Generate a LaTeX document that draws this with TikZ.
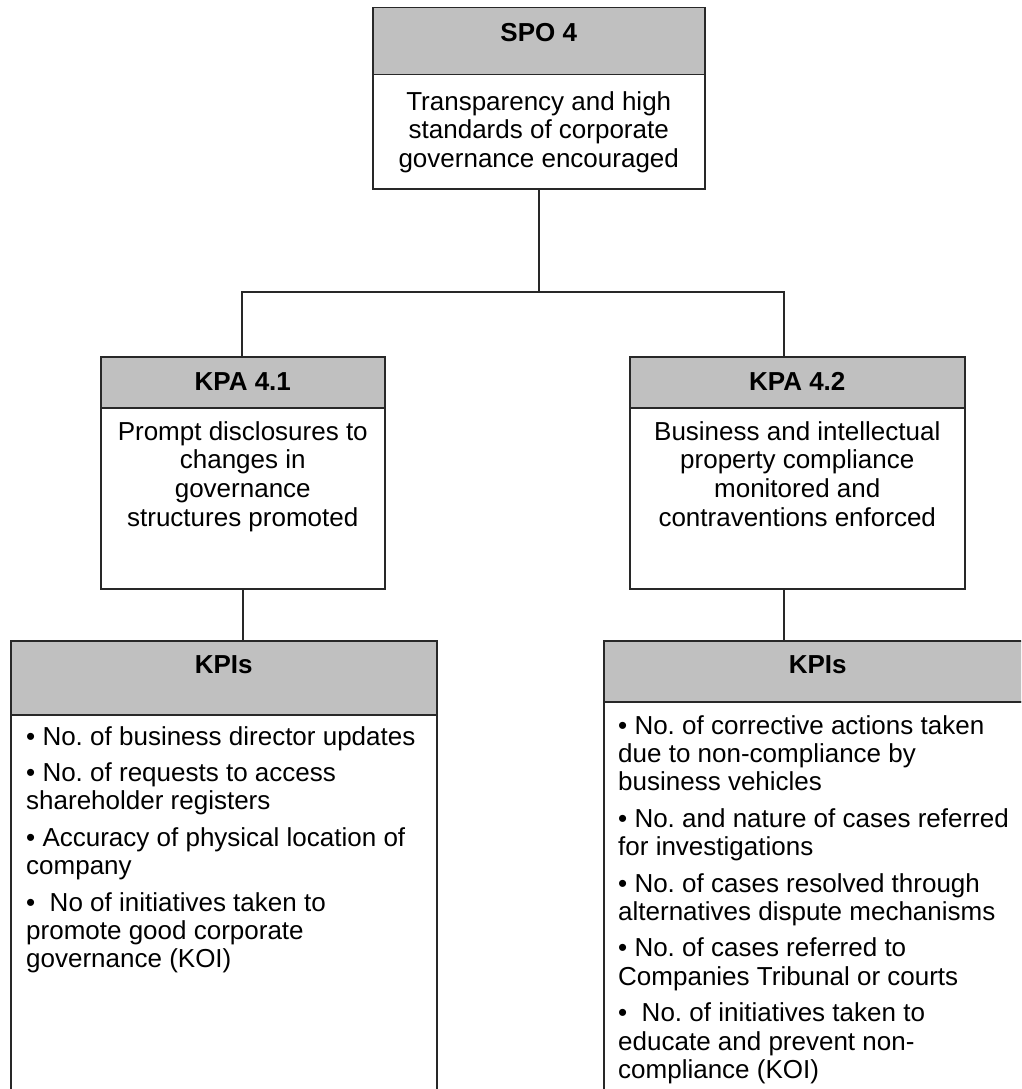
\documentclass[tikz,border=0pt]{standalone}
\usepackage{fontspec}
\setmainfont{Liberation Sans}
\usetikzlibrary{positioning}
\definecolor{headgray}{RGB}{192,192,192}
\definecolor{rulegray}{RGB}{40,40,40}
\frenchspacing
\begin{document}
\begin{tikzpicture}[x=1pt,y=-1pt,
  edge/.style={draw=rulegray, line width=1.5pt},
  box/.style={rectangle, draw=rulegray, line width=1.5pt, inner sep=0pt, anchor=north west},
  head/.style={box, fill=headgray},
  body/.style={box, fill=white},
  title/.style={font=\fontsize{26}{29}\selectfont\bfseries, inner sep=0pt, anchor=north},
  ctext/.style={font=\fontsize{26}{28.8}\selectfont, align=center, inner sep=0pt, anchor=north},
  ltext/.style={font=\fontsize{26}{28.4}\selectfont, align=left, inner sep=0pt, anchor=north west},
]
\useasboundingbox (0,0) rectangle (1021,1089);
\fill[white] (0,0) rectangle (1021,1089);
\clip (0,0) rectangle (1021,1089);

% strategic objective
\node[head, minimum width=332pt, minimum height=67pt]  (spoH) at (372,7) {};
\node[body, minimum width=332pt, minimum height=114pt] (spoB) at (372,74) {};
\node[title, below=16pt of spoH.north] (spoT) {SPO 4};
\node[ctext, below=17pt of spoB.north] (spoX)
  {Transparency and high\\standards of corporate\\governance encouraged};

% key performance areas
\node[head, minimum width=284pt, minimum height=51pt]  (kpa1H) at (100,356) {};
\node[body, minimum width=284pt, minimum height=181pt] (kpa1B) at (100,407) {};
\node[title, below=16pt of kpa1H.north] (kpa1T) {KPA 4.1};
\node[ctext, below=14pt of kpa1B.north] (kpa1X)
  {Prompt disclosures to\\changes in\\governance\\structures promoted};

\node[head, minimum width=335pt, minimum height=51pt]  (kpa2H) at (629,356) {};
\node[body, minimum width=335pt, minimum height=181pt] (kpa2B) at (629,407) {};
\node[title, below=16pt of kpa2H.north] (kpa2T) {KPA 4.2};
\node[ctext, below=14pt of kpa2B.north] (kpa2X)
  {Business and intellectual\\property compliance\\monitored and\\contraventions enforced};

% indicator lists
\node[head, minimum width=426pt, minimum height=74pt]  (kpi1H) at (10,640) {};
\node[body, minimum width=426pt, minimum height=420pt] (kpi1B) at (10,714) {};
\node[title, below=15pt of kpi1H.north] (kpi1T) {KPIs};
\node[ltext, below right=12pt and 16pt of kpi1B.north west] (kpi1X)
  {• No. of business director updates\\[8pt]
   • No. of requests to access\\shareholder registers\\[8pt]
   • Accuracy of physical location of\\company\\[8pt]
   •\ \ No of initiatives taken to\\promote good corporate\\governance (KOI)};

\node[head, minimum width=428pt, minimum height=61pt]  (kpi2H) at (603,640) {};
\node[body, minimum width=428pt, minimum height=420pt] (kpi2B) at (603,701) {};
\node[title, below=15pt of kpi2H.north] (kpi2T) {KPIs};
\node[ltext, below right=14pt and 15pt of kpi2B.north west] (kpi2X)
  {• No. of corrective actions taken\\due to non-compliance by\\business vehicles\\[8pt]
   • No. and nature of cases referred\\for investigations\\[8pt]
   • No. of cases resolved through\\alternatives dispute mechanisms\\[8pt]
   • No. of cases referred to\\Companies Tribunal or courts\\[8pt]
   •\ \ No. of initiatives taken to\\educate and prevent non-\\compliance (KOI)};

% connectors
\coordinate (jl) at (242,292);
\coordinate (jr) at (784,292);
\draw[edge] (spoB.south) -- (spoB.south |- jl);
\draw[edge] (jl |- kpa1H.north) -- (jl) -- (jr) -- (jr |- kpa2H.north);
\draw[edge] (kpa1B.south) -- (kpa1B.south |- kpi1H.north);
\draw[edge] (jr |- kpa2B.south) -- (jr |- kpi2H.north);
\end{tikzpicture}
\end{document}
